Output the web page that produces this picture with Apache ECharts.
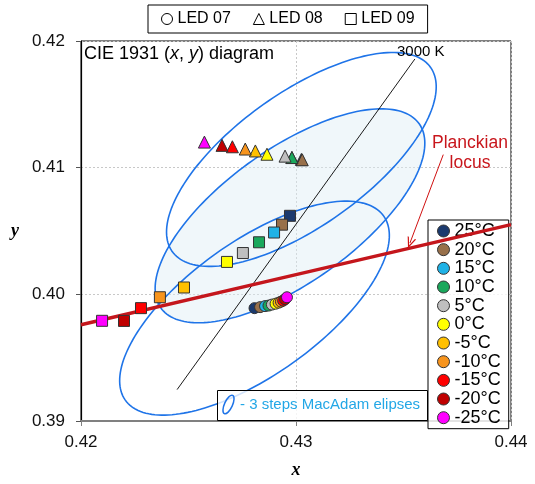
<!DOCTYPE html>
<html><head><meta charset="utf-8">
<script src="https://cdn.jsdelivr.net/npm/echarts@6/dist/echarts.min.js"></script>
<style>html,body{margin:0;padding:0;background:#fff}#c{width:535px;height:484px}</style>
</head><body><div id="c"></div>
<script>
// ---- data ----
const temperatures = ['25°C','20°C','15°C','10°C','5°C','0°C','-5°C','-10°C','-15°C','-20°C','-25°C'];
const tempColors = ['#1b3a6e','#98704a','#1fb2e6','#1aa85c','#bfbfbf','#ffff00','#ffc000','#f7941d','#ff0000','#c00000','#ff00ff'];
const ledNames = ['LED 07','LED 08','LED 09'];
// LED 07 (circles)
const led07X = [0.42807,0.42833,0.42856,0.42872,0.42888,0.42905,0.42919,0.42930,0.42940,0.42949,0.42958];
const led07Y = [0.39891,0.39899,0.39907,0.39911,0.39919,0.39926,0.39934,0.39942,0.39950,0.39961,0.39977];
// LED 08 (triangles)
const led08X = [0.43025,0.43029,0.42981,0.42981,0.42949,0.42865,0.42811,0.42764,0.42704,0.42656,0.42574];
const led08Y = [0.41065,0.41062,0.41080,0.41080,0.41091,0.41106,0.41132,0.41147,0.41165,0.41176,0.41202];
// LED 09 (squares)
const led09X = [0.42972,0.42935,0.42898,0.42828,0.42753,0.42679,0.42479,0.42367,0.42279,0.42200,0.42098];
const led09Y = [0.40620,0.40550,0.40488,0.40411,0.40326,0.40256,0.40054,0.39977,0.39891,0.39790,0.39791];
// Planckian locus
const planckX = [0.42, 0.43, 0.44];
const planckY = [0.3976, 0.40155, 0.4055];
// 3000 K isotemperature line
const iso3000X = [0.42447, 0.43553];
const iso3000Y = [0.39248, 0.41858];
// Planckian locus annotation arrow (start, end)
const arrowX = [0.43685, 0.43530];
const arrowY = [0.41103, 0.40405];
// 3-step MacAdam ellipses (centres = 25°C points of each LED)
const ellipseX = [0.43025, 0.42972, 0.42807];
const ellipseY = [0.41065, 0.40620, 0.39891];
const ellipseFilled = [0, 1, 0];
const macAdamA = 0.00973, macAdamB = 0.0040, macAdamThetaDeg = 57.0;
// axes
const xMin = 0.42, xMax = 0.44, yMin = 0.39, yMax = 0.42, tickStep = 0.01;

// ---- chart ----
const chart = echarts.init(document.getElementById('c'), null, {renderer:'canvas'});
const FONT = '"Liberation Sans", Arial, sans-serif';

function ellipsePoints(cx, cy, api) {
  const th = macAdamThetaDeg * Math.PI / 180;
  const pts = [];
  for (let k = 0; k <= 180; k++) {
    const t = k / 180 * 2 * Math.PI;
    const dx = macAdamA * Math.cos(t) * Math.cos(th) - macAdamB * Math.sin(t) * Math.sin(th);
    const dy = macAdamA * Math.cos(t) * Math.sin(th) + macAdamB * Math.sin(t) * Math.cos(th);
    pts.push(api.coord([cx + dx, cy + dy]));
  }
  return pts;
}

const series = [];
// ellipse fills
series.push({
  type: 'custom', silent: true, z: 1, clip: true,
  data: ellipseX.map((x, i) => [x, ellipseY[i], ellipseFilled[i]]),
  renderItem(params, api) {
    if (!api.value(2)) return null;
    return {type:'polygon', shape:{points: ellipsePoints(api.value(0), api.value(1), api)},
      style:{fill:'rgba(222,238,244,0.45)', stroke:'none'}};
  }
});
// ellipse outlines
series.push({
  type: 'custom', silent: true, z: 3, clip: true,
  data: ellipseX.map((x, i) => [x, ellipseY[i]]),
  renderItem(params, api) {
    return {type:'polyline', shape:{points: ellipsePoints(api.value(0), api.value(1), api)},
      style:{fill:'none', stroke:'#1f74e8', lineWidth:1.6}};
  }
});
// 3000 K line
series.push({
  type:'line', silent:true, z:3, symbol:'none',
  data: iso3000X.map((x,i)=>[x, iso3000Y[i]]),
  lineStyle:{color:'#000', width:0.9}
});
// Planckian locus + arrow
series.push({
  type:'line', silent:true, z:4, symbol:'none', smooth:true,
  data: planckX.map((x,i)=>[x, planckY[i]]),
  lineStyle:{color:'#c4161c', width:3.4},
  markLine:{
    silent:true, symbol:['none','path://M0,12 L5,0 L10,12 L8.6,12 L5,3.4 L1.4,12 Z'], symbolSize:[9,11],
    label:{show:false}, lineStyle:{color:'#d01010', width:1, type:'solid'},
    data:[[{coord:[arrowX[0], arrowY[0]]},{coord:[arrowX[1], arrowY[1]]}]]
  }
});
// dummy series for the LED legend
const ledSymbols = ['circle','triangle','rect'];
ledNames.forEach((n,i)=>{
  series.push({type:'scatter', name:n, symbol:ledSymbols[i], data:[],
    itemStyle:{color:'#fff', borderColor:'#000', borderWidth:1, opacity:1}});
});
// temperature series
temperatures.forEach((t,i)=>{
  series.push({
    type:'scatter', name:t, z:5, symbol:'circle',
    itemStyle:{color:tempColors[i], borderColor:'#333', borderWidth:1, opacity:1},
    data:[
      {value:[led07X[i], led07Y[i]], symbol:'circle', symbolSize:11},
      {value:[led08X[i], led08Y[i]], symbol:'triangle', symbolSize:[12,12]},
      {value:[led09X[i], led09Y[i]], symbol:'rect', symbolSize:11}
    ]
  });
});

chart.setOption({
  animation:false,
  backgroundColor:'#fff',
  grid:{left:81, right:24, top:41, bottom:57, show:true, borderColor:'#000', borderWidth:1, backgroundColor:'transparent'},
  xAxis:{
    type:'value', min:xMin, max:xMax, interval:tickStep,
    name:'x', nameLocation:'middle', nameGap:40,
    nameTextStyle:{fontFamily:'"Liberation Serif", "Times New Roman", serif', fontStyle:'italic', fontWeight:'bold', fontSize:18, color:'#000'},
    axisLine:{lineStyle:{color:'#808080', width:2}},
    axisTick:{length:5, lineStyle:{color:'#808080'}},
    axisLabel:{margin:13, fontSize:17, color:'#111', fontFamily:FONT, formatter:v=>v.toFixed(2)},
    splitLine:{show:true, lineStyle:{color:'#c8c8c8', type:[2,2], width:1}}
  },
  yAxis:{
    type:'value', min:yMin, max:yMax, interval:tickStep,
    name:'y', nameLocation:'middle', nameGap:62, nameRotate:0,
    nameTextStyle:{fontFamily:'"Liberation Serif", "Times New Roman", serif', fontStyle:'italic', fontWeight:'bold', fontSize:18, color:'#000'},
    axisLine:{lineStyle:{color:'#000', width:1.2}},
    axisTick:{length:5, lineStyle:{color:'#555'}},
    axisLabel:{margin:16, fontSize:17, color:'#111', fontFamily:FONT, formatter:v=>v.toFixed(2)},
    splitLine:{show:true, lineStyle:{color:'#c8c8c8', type:[2,2], width:1}}
  },
  legend:[
    {
      data: ledNames.map((n,i)=>({name:n, icon:ledSymbols[i], itemStyle:{color:'#fff', borderColor:'#000', borderWidth:1, opacity:1}})),
      orient:'horizontal', left:148, top:5, selectedMode:false,
      backgroundColor:'#fff', borderColor:'#000', borderWidth:1, padding:[6,13,6,13],
      itemWidth:11, itemHeight:11, itemGap:22,
      textStyle:{fontSize:16, color:'#000', fontFamily:FONT}
    },
    {
      data: temperatures.map((t,i)=>({name:t, icon:'circle', itemStyle:{color:tempColors[i], borderColor:'#333', borderWidth:1, opacity:1}})),
      orient:'vertical', left:428, top:220, selectedMode:false,
      backgroundColor:'rgba(255,255,255,0.78)', borderColor:'#000', borderWidth:1, padding:[2,8,2,9],
      itemWidth:12, itemHeight:12, itemGap:0.67,
      textStyle:{fontSize:18, lineHeight:18, color:'#000', fontFamily:FONT}
    }
  ],
  graphic:[
    {type:'text', left:84, top:45, z:10, style:{
      text:'CIE 1931 ({i|x}, {i|y}) diagram', font:'18px '+FONT, fill:'#000',
      rich:{i:{fontStyle:'italic', fontSize:18, fontFamily:FONT}}}},
    {type:'text', x:397, y:52, z:10, style:{text:'3000 K', font:'15px '+FONT, fill:'#000', verticalAlign:'middle'}},
    {type:'text', x:470, y:153, z:10, style:{text:'Planckian\nlocus', font:'17.5px '+FONT, lineHeight:20, fill:'#c8161c', align:'center', verticalAlign:'middle'}},
    {type:'rect', z:10, shape:{x:217.5, y:390.5, width:210, height:30}, style:{fill:'rgba(255,255,255,0.8)', stroke:'#000', lineWidth:1}},
    {type:'ellipse', z:11, x:228.5, y:404.5, rotation:-0.43, shape:{cx:0, cy:0, rx:4, ry:10}, style:{fill:'none', stroke:'#1f74e8', lineWidth:1.5}},
    {type:'text', z:11, x:240, y:405, style:{text:'- 3 steps MacAdam elipses', font:'15px '+FONT, fill:'#22a7e6', verticalAlign:'middle'}}
  ],
  series: series
});
</script>
</body></html>
